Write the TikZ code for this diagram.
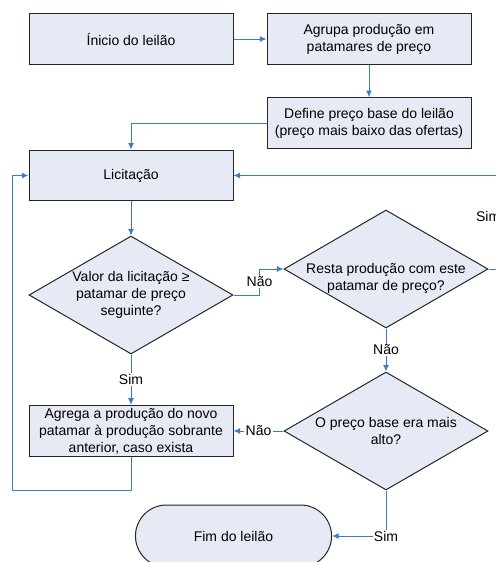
\documentclass[tikz,border=0pt]{standalone}
\usepackage{fontspec}
\setmainfont{Liberation Sans}
\usepackage{tikz}
\usetikzlibrary{arrows.meta,shapes.geometric,shapes.misc,positioning}
\definecolor{FlowBlue}{RGB}{59, 125, 196}
\definecolor{BoxFill}{RGB}{229, 234, 245}
\definecolor{BoxEdge}{RGB}{38, 38, 38}

\begin{document}
\begin{tikzpicture}[x=0.75pt, y=-0.75pt, font=\fontsize{10.5pt}{12.75pt}\selectfont,
  proc/.style={draw=BoxEdge, line width=0.75pt, fill=BoxFill, align=center,
               inner sep=2pt, minimum width=153pt, minimum height=38pt},
  decision/.style={diamond, draw=BoxEdge, line width=0.75pt, fill=BoxFill,
               inner sep=0pt, minimum width=153pt, minimum height=88.5pt},
  txt/.style={align=center, inner sep=0pt},
  term/.style={rounded rectangle, draw=BoxEdge, line width=0.75pt, fill=BoxFill,
               minimum width=153.75pt, minimum height=46.5pt},
  lbl/.style={fill=white, inner sep=1pt},
  sig/.style={-{Latex[length=5pt, width=4.5pt]}, draw=FlowBlue, line width=0.75pt}]
  \useasboundingbox (0,0) rectangle (496,562);
  \clip (0,0) rectangle (496,562);
  \node[proc] (inicio) at (131,39)  {Ínicio do leilão};
  \node[proc] (agrupa) at (369,39)  {Agrupa produção em\\patamares de preço};
  \node[proc] (define) at (369,123) {Define preço base do leilão\\(preço mais baixo das ofertas)};
  \node[proc] (licit)  at (131,175.5) {Licitação};
  \node[decision, label={[txt]center:Valor da licitação ≥\\patamar de preço\\seguinte?}] (valor) at (131,295) {};
  \node[decision, label={[txt, yshift=-6.75pt]center:Resta produção com este\\patamar de preço?}] (resta) at (386,269) {};
  \node[decision, label={[txt]center:O preço base era mais\\alto?}] (preco) at (386,431) {};
  \node[proc] (agrega) at (131,431) {Agrega a produção do novo\\patamar à produção sobrante\\anterior, caso exista};
  \node[term] (fim) at (233.5,536) {Fim do leilão};
  \coordinate (volta) at (12,490);
  \draw[sig] (inicio) -- (agrupa);
  \draw[sig] (agrupa) -- (define);
  \draw[sig] (define.west) -| (licit.north);
  \draw[sig] (licit) -- (valor);
  \draw[sig] (valor.east) -- ++(26,0) |- node[pos=0.25, lbl]{Não} (resta.west);
  \draw[sig] (resta.east) -- ++(18,0) |- node[pos=0.28, left=1pt]{Sim} (licit.east);
  \draw[sig] (resta) -- node[lbl]{Não} (preco);
  \draw[sig] (preco) -- node[lbl]{Não} (agrega);
  \draw[sig] (valor) -- node[lbl]{Sim} (agrega);
  \draw[sig] (preco.south) |- node[lbl]{Sim} (fim.east);
  \draw[sig] (agrega.south) |- (volta) |- (licit.west);
\end{tikzpicture}
\end{document}
